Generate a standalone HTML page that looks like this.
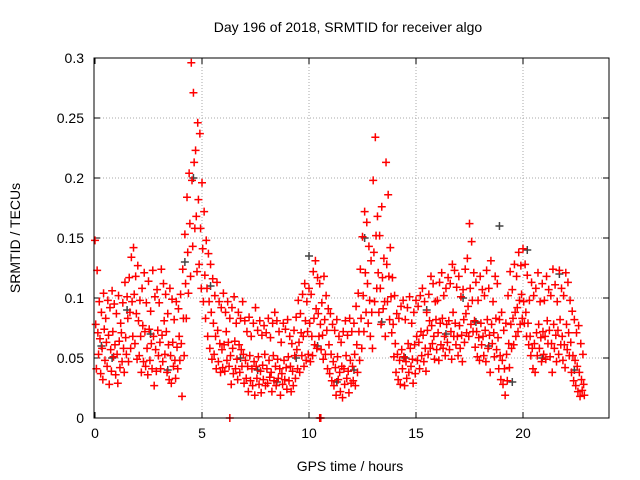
<!DOCTYPE html>
<html><head><meta charset="utf-8"><style>
body{margin:0;background:#fff}
svg{display:block;font-family:"Liberation Sans",sans-serif}
</style></head><body>
<svg id="chart" width="640" height="480">
<text x="348" y="32" text-anchor="middle" font-size="14">Day 196 of 2018, SRMTID for receiver algo</text>
<text transform="translate(20,238) rotate(-90)" text-anchor="middle" font-size="14">SRMTID / TECUs</text>
<text x="350" y="471" text-anchor="middle" font-size="14">GPS time / hours</text>
<g id="grid"></g>
<g id="ticks"></g>
<g id="pts"></g>
<rect x="94" y="58" width="515" height="360" fill="none" stroke="#000"/>
</svg>
<script>
const xTicks=[0,5,10,15,20];
const yTicks=[0,0.05,0.1,0.15,0.2,0.25,0.3];
const yTickLabels=["0","0.05","0.1","0.15","0.2","0.25","0.3"];
const startHour=0, stepHour=0.1;
const redHi=[.148,.123,.097,.088,.104,.083,.098,.092,.106,.095,.087,.102,.079,.096,.113,.101,.117,.134,.142,.118,.127,.098,.108,.121,.096,.114,.089,.123,.101,.107,.096,.124,.112,.103,.087,.108,.099,.082,.097,.091,.103,.124,.153,.184,.204,.296,.271,.223,.246,.237,.196,.172,.148,.137,.128,.116,.102,.113,.097,.092,.104,.088,.097,.083,.092,.101,.079,.088,.083,.097,.081,.072,.084,.068,.079,.092,.073,.081,.069,.077,.071,.083,.067,.079,.088,.081,.072,.063,.079,.074,.082,.068,.062,.073,.084,.098,.087,.103,.112,.097,.108,.103,.122,.131,.117,.112,.096,.118,.102,.091,.087,.078,.073,.082,.068,.063,.072,.081,.069,.083,.072,.079,.093,.104,.124,.151,.172,.163,.143,.131,.198,.234,.168,.152,.176,.133,.213,.186,.142,.117,.102,.087,.083,.093,.098,.082,.092,.101,.079,.088,.098,.093,.102,.108,.097,.088,.103,.118,.112,.097,.098,.113,.121,.102,.108,.117,.112,.128,.123,.109,.118,.101,.107,.124,.133,.162,.147,.121,.113,.098,.118,.107,.102,.123,.108,.131,.097,.118,.112,.082,.088,.073,.079,.102,.122,.107,.128,.118,.138,.127,.141,.128,.119,.098,.113,.102,.108,.121,.097,.112,.098,.118,.107,.102,.124,.111,.097,.123,.108,.102,.121,.113,.098,.089,.082,.071,.077,.062,.053];
const redMid=[.078,.071,.066,.058,.074,.063,.069,.057,.072,.061,.053,.064,.071,.058,.067,.083,.088,.097,.103,.087,.081,.068,.077,.072,.058,.074,.062,.068,.057,.073,.063,.069,.081,.072,.061,.052,.063,.048,.059,.068,.062,.083,.112,.138,.162,.198,.213,.168,.182,.158,.141,.119,.108,.097,.088,.079,.068,.073,.062,.057,.061,.072,.063,.052,.058,.064,.049,.061,.057,.053,.048,.043,.052,.041,.047,.043,.051,.039,.044,.053,.041,.048,.038,.052,.043,.049,.041,.037,.048,.042,.051,.043,.039,.052,.057,.063,.071,.068,.081,.072,.079,.068,.083,.091,.087,.078,.069,.082,.073,.061,.053,.047,.042,.051,.038,.043,.041,.052,.039,.048,.043,.053,.061,.072,.083,.102,.121,.112,.098,.088,.138,.152,.121,.108,.117,.097,.128,.118,.101,.078,.062,.053,.048,.057,.051,.047,.062,.058,.049,.061,.068,.063,.072,.069,.058,.073,.081,.077,.068,.082,.071,.079,.083,.068,.078,.081,.072,.088,.079,.068,.077,.069,.082,.087,.093,.108,.098,.081,.072,.067,.079,.068,.073,.082,.069,.078,.071,.083,.067,.052,.048,.041,.053,.062,.078,.083,.088,.092,.098,.103,.097,.088,.079,.068,.058,.062,.071,.078,.067,.072,.068,.081,.073,.062,.078,.069,.073,.082,.068,.061,.078,.071,.063,.052,.048,.043,.038,.032,.028];
const redLo=[.041,.053,.037,.032,.048,.043,.028,.039,.051,.036,.029,.042,.047,.038,.053,.047,.058,.068,.062,.049,.052,.038,.047,.043,.036,.048,.041,.027,.039,.052,.041,.047,.053,.038,.032,.029,.043,.033,.041,.048,.018,.052,.083,.104,.118,.143,.158,.122,.128,.108,.097,.083,.068,.058,.049,.053,.041,.047,.038,.042,.039,.048,.043,.028,.037,.041,.032,.038,.043,.029,.033,.022,.031,.027,.019,.033,.028,.021,.032,.027,.029,.034,.022,.031,.027,.033,.019,.028,.032,.024,.031,.022,.027,.033,.041,.038,.052,.043,.048,.053,.047,.052,.061,.058,.068,.057,.049,.053,.041,.037,.031,.027,.019,.032,.022,.017,.028,.033,.021,.029,.031,.027,.038,.048,.058,.072,.088,.079,.068,.058,.097,.108,.088,.078,.091,.068,.097,.082,.071,.051,.038,.032,.028,.041,.027,.033,.038,.043,.029,.037,.048,.041,.052,.047,.039,.053,.058,.062,.049,.057,.048,.061,.058,.052,.063,.057,.049,.068,.061,.052,.058,.047,.063,.071,.068,.078,.072,.059,.051,.048,.061,.052,.047,.058,.038,.062,.051,.057,.041,.032,.028,.019,.031,.042,.058,.061,.068,.072,.078,.083,.079,.068,.061,.052,.041,.038,.052,.058,.047,.053,.049,.062,.051,.038,.058,.047,.053,.061,.048,.042,.057,.052,.038,.031,.027,.022,.018,.023,.019];
const grayHours=[0.3,0.8,1.5,2.6,3.4,4.2,4.6,5.4,6.8,7.6,8.5,9.4,10.0,10.4,11.3,12.1,12.6,13.4,14.5,15.5,16.4,17.2,17.8,18.4,18.9,19.5,20.2,20.9,21.7,22.4];
const grayVals=[.06,.05,.09,.07,.04,.13,.2,.11,.05,.04,.03,.05,.135,.06,.03,.04,.15,.08,.05,.09,.07,.1,.08,.06,.16,.03,.14,.05,.12,.04];
const zeroHours=[6.3,10.5,10.55];
const zeroVals=[0,0,0];

const X=h=>95+h*21.4, Y=v=>418-v*1200;
const NS="http://www.w3.org/2000/svg";
const grid=document.getElementById('grid'), ticks=document.getElementById('ticks'), pts=document.getElementById('pts');
function mk(t,a,p){const e=document.createElementNS(NS,t);for(const k in a)e.setAttribute(k,a[k]);p.appendChild(e);return e;}
xTicks.forEach(t=>{
  const x=X(t);
  if(t>0){const g=mk('line',{x1:x,x2:x,y1:58,y2:418,stroke:'#aaa','stroke-dasharray':'1,2'},grid);
  
  }
  mk('line',{x1:x,x2:x,y1:418,y2:412,stroke:'#000'},ticks);
  mk('line',{x1:x,x2:x,y1:58,y2:64,stroke:'#000'},ticks);
  const l=mk('text',{x:x,y:438,'text-anchor':'middle','font-size':14},ticks);l.textContent=t;
  
  
});
yTicks.forEach((t,i)=>{
  const y=Y(t);
  if(t>0&&t<0.3){const g=mk('line',{x1:94,x2:609,y1:y,y2:y,stroke:'#aaa','stroke-dasharray':'1,2'},grid);
  
  }
  mk('line',{x1:94,x2:100,y1:y,y2:y,stroke:'#000'},ticks);
  mk('line',{x1:603,x2:609,y1:y,y2:y,stroke:'#000'},ticks);
  const l=mk('text',{x:84,y:y+5,'text-anchor':'end','font-size':14},ticks);l.textContent=yTickLabels[i];
  
  
});
function cross(h,v,c,name){
  const x=X(h),y=Y(v);
  const p=mk('path',{d:`M${x-4} ${y}h8M${x} ${y-4}v8`,stroke:c,'stroke-width':1.5,fill:'none'},pts);
  
  
}
grayHours.forEach((h,i)=>cross(h,grayVals[i],'#444','gray-point'));
[redHi,redMid,redLo].forEach((arr,k)=>arr.forEach((v,i)=>cross(startHour+i*stepHour+k*0.033,v,'#f00','red-point')));
zeroHours.forEach((h,i)=>cross(h,zeroVals[i],'#f00','red-zero-point'));
</script>
</body></html>
